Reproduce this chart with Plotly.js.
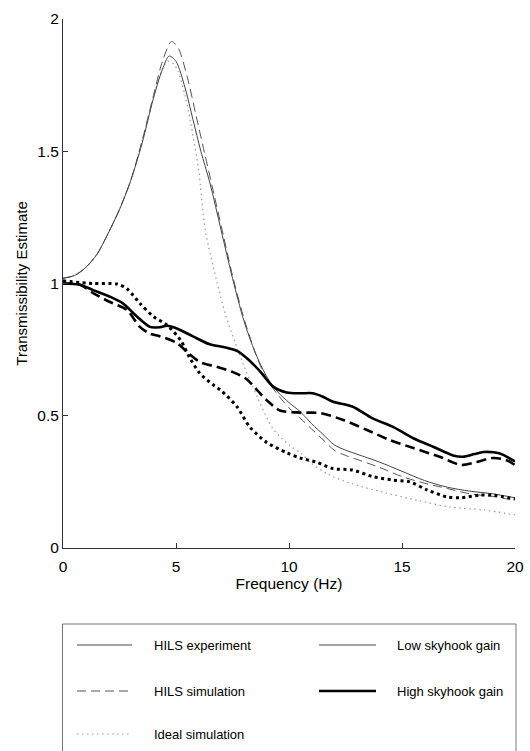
<!DOCTYPE html>
<html><head><meta charset="utf-8">
<script src="https://cdn.plot.ly/plotly-3.0.1.min.js"></script>
<style>html,body{margin:0;padding:0;background:#fff}</style>
</head><body><div id="chart" style="width:530px;height:751px"></div>
<script>
// Low skyhook gain (thin lines)
const lowExpX = [0, 0.5, 1, 1.5, 2, 2.5, 3, 3.5, 4, 4.4, 4.7, 5.0, 5.4, 5.75, 6.1, 6.5, 7.0, 7.5, 8.0, 8.5, 9.0, 9.5, 10, 10.5, 11, 11.5, 12, 12.5, 13, 14, 15, 16, 17, 18, 19, 20];
const lowExpY = [1.02, 1.03, 1.06, 1.11, 1.19, 1.28, 1.39, 1.53, 1.70, 1.81, 1.86, 1.84, 1.74, 1.62, 1.50, 1.38, 1.20, 1.02, 0.86, 0.74, 0.65, 0.59, 0.55, 0.515, 0.47, 0.43, 0.39, 0.37, 0.355, 0.325, 0.29, 0.255, 0.23, 0.215, 0.205, 0.19];

const lowSimX = [0, 0.5, 1, 1.5, 2, 2.5, 3, 3.5, 4, 4.4, 4.8, 5.1, 5.5, 5.9, 6.3, 6.7, 7.1, 7.5, 8.0, 8.5, 9.0, 9.5, 10, 10.5, 11, 11.5, 12, 12.5, 13, 14, 15, 16, 17, 18, 19, 20];
const lowSimY = [1.02, 1.03, 1.06, 1.11, 1.19, 1.28, 1.39, 1.54, 1.71, 1.84, 1.915, 1.89, 1.78, 1.63, 1.48, 1.33, 1.18, 1.03, 0.87, 0.74, 0.64, 0.58, 0.53, 0.49, 0.45, 0.41, 0.37, 0.35, 0.335, 0.305, 0.27, 0.245, 0.225, 0.205, 0.195, 0.18];

const lowIdealX = [0, 0.5, 1, 1.5, 2, 2.5, 3, 3.5, 4, 4.3, 4.6, 4.9, 5.1, 5.4, 5.62, 6.0, 6.3, 6.8, 7.2, 7.6, 8.0, 8.6, 9.3, 10, 10.5, 11, 11.7, 12.7, 14.2, 15.7, 17.1, 18.6, 20];
const lowIdealY = [1.02, 1.03, 1.06, 1.11, 1.19, 1.28, 1.39, 1.54, 1.70, 1.79, 1.84, 1.83, 1.80, 1.71, 1.62, 1.43, 1.20, 1.01, 0.88, 0.78, 0.69, 0.57, 0.45, 0.39, 0.36, 0.32, 0.28, 0.245, 0.21, 0.18, 0.155, 0.144, 0.125];

// High skyhook gain (thick lines)
const highExpX = [0, 0.75, 1.33, 2.08, 2.65, 3.27, 3.85, 4.3, 4.6, 5.04, 5.75, 6.5, 7.2, 7.7, 8.1, 8.7, 9.3, 9.9, 10.5, 11.06, 11.5, 11.95, 12.8, 13.7, 14.6, 15.5, 16.4, 17.26, 17.7, 18.2, 18.6, 19.3, 20];
const highExpY = [1.0, 0.995, 0.975, 0.95, 0.925, 0.875, 0.836, 0.835, 0.84, 0.83, 0.80, 0.77, 0.758, 0.745, 0.72, 0.67, 0.61, 0.588, 0.585, 0.585, 0.572, 0.553, 0.535, 0.49, 0.458, 0.415, 0.382, 0.35, 0.345, 0.355, 0.363, 0.358, 0.327];

const highSimX = [0, 0.75, 1.33, 2.08, 2.83, 3.4, 3.85, 4.3, 5.04, 5.5, 6.06, 6.8, 7.52, 8.1, 9.0, 9.6, 10.5, 11.4, 12.4, 13.45, 14.47, 15.5, 16.7, 17.6, 18.3, 19.0, 19.6, 20];
const highSimY = [1.0, 0.995, 0.964, 0.93, 0.90, 0.836, 0.81, 0.80, 0.775, 0.74, 0.703, 0.685, 0.665, 0.64, 0.56, 0.52, 0.512, 0.51, 0.484, 0.446, 0.408, 0.378, 0.344, 0.314, 0.325, 0.34, 0.333, 0.314];

const highIdealX = [0, 1.33, 2.4, 2.83, 3.4, 4.0, 4.6, 5.2, 5.6, 6.06, 6.64, 7.0, 7.7, 8.27, 9.0, 9.9, 10.5, 11.2, 11.95, 12.8, 13.7, 14.6, 15.35, 16.1, 17.0, 17.6, 18.45, 19.0, 20];
const highIdealY = [1.01, 1.0, 0.998, 0.98, 0.925, 0.875, 0.843, 0.786, 0.72, 0.66, 0.617, 0.595, 0.534, 0.457, 0.40, 0.36, 0.34, 0.325, 0.30, 0.295, 0.27, 0.257, 0.25, 0.22, 0.193, 0.19, 0.2, 0.2, 0.185];

const xTickVals = [0, 5, 10, 15, 20];
const yTickVals = [0, 0.5, 1, 1.5, 2];
const legendStyleLabels = ['HILS experiment', 'HILS simulation', 'Ideal simulation'];
const legendGainLabels = ['Low skyhook gain', 'High skyhook gain'];

const FONT = 'Liberation Sans, Arial, sans-serif';
const thinSolid = {color: '#444', width: 1};
const thinDash = {color: '#555', width: 1, dash: '9px,5px'};
const thinDot = {color: '#999', width: 1.2, dash: '1.5px,3.5px'};
const thickSolid = {color: '#000', width: 2.6};
const thickDash = {color: '#000', width: 2.6, dash: '10px,5px'};
const thickDot = {color: '#000', width: 3, dash: '3px,3.5px'};

function tr(x, y, line) {
  return {x: x, y: y, type: 'scatter', mode: 'lines', line: Object.assign({shape: 'spline', smoothing: 0.8}, line), showlegend: false, hoverinfo: 'skip'};
}
const data = [
  tr(lowIdealX, lowIdealY, thinDot),
  tr(lowSimX, lowSimY, thinDash),
  tr(lowExpX, lowExpY, thinSolid),
  tr(highIdealX, highIdealY, thickDot),
  tr(highSimX, highSimY, thickDash),
  tr(highExpX, highExpY, thickSolid)
];

// Custom legend (style key + gain key) in paper coordinates
const W = 530, H = 751, ml = 63, mr = 15, mt = 19, mb = 203;
const pw = W - ml - mr, ph = H - mt - mb;
const px = v => (v - ml) / pw;
const py = v => (H - mb - v) / ph;
const rowsY = [645, 691, 734];
const shapes = [{type: 'rect', xref: 'paper', yref: 'paper', x0: px(62.5), x1: px(516), y0: py(624), y1: py(760), line: {color: '#777', width: 1}, fillcolor: 'rgba(0,0,0,0)'}];
const annotations = [];
const styleLines = [thinSolid, thinDash, thinDot];
legendStyleLabels.forEach((t, i) => {
  const l = Object.assign({}, styleLines[i]);
  shapes.push({type: 'line', xref: 'paper', yref: 'paper', x0: px(77), x1: px(132), y0: py(rowsY[i]), y1: py(rowsY[i]), line: l});
  annotations.push({xref: 'paper', yref: 'paper', x: px(152), y: py(rowsY[i]), xanchor: 'left', yanchor: 'middle', text: t, showarrow: false, font: {family: FONT, size: 13, color: '#000'}});
});
const gainLines = [thinSolid, thickSolid];
legendGainLabels.forEach((t, i) => {
  shapes.push({type: 'line', xref: 'paper', yref: 'paper', x0: px(319), x1: px(376), y0: py(rowsY[i]), y1: py(rowsY[i]), line: Object.assign({}, gainLines[i])});
  annotations.push({xref: 'paper', yref: 'paper', x: px(395), y: py(rowsY[i]), xanchor: 'left', yanchor: 'middle', text: t, showarrow: false, font: {family: FONT, size: 13, color: '#000'}});
});

const layout = {
  width: W, height: H,
  margin: {l: ml, r: mr, t: mt, b: mb, pad: 0},
  paper_bgcolor: '#fff', plot_bgcolor: '#fff',
  font: {family: FONT, size: 15, color: '#000'},
  showlegend: false,
  xaxis: {range: [0, 20], tickvals: xTickVals, ticks: 'inside', ticklen: 5, tickcolor: '#333', showline: true, linecolor: '#333', linewidth: 1, showgrid: false, zeroline: false, mirror: false,
    title: {text: 'Frequency (Hz)', font: {size: 15.5}, standoff: 2}, tickfont: {size: 15.5}, ticklabelstandoff: 4},
  yaxis: {range: [0, 2], tickvals: yTickVals, ticks: 'inside', ticklen: 5, tickcolor: '#333', showline: true, linecolor: '#333', linewidth: 1, showgrid: false, zeroline: false, mirror: false,
    title: {text: 'Transmissibility Estimate', font: {size: 15}, standoff: 6}, tickfont: {size: 15.5}},
  shapes: shapes,
  annotations: annotations
};
Plotly.newPlot('chart', data, layout, {displayModeBar: false, staticPlot: true});
</script></body></html>
